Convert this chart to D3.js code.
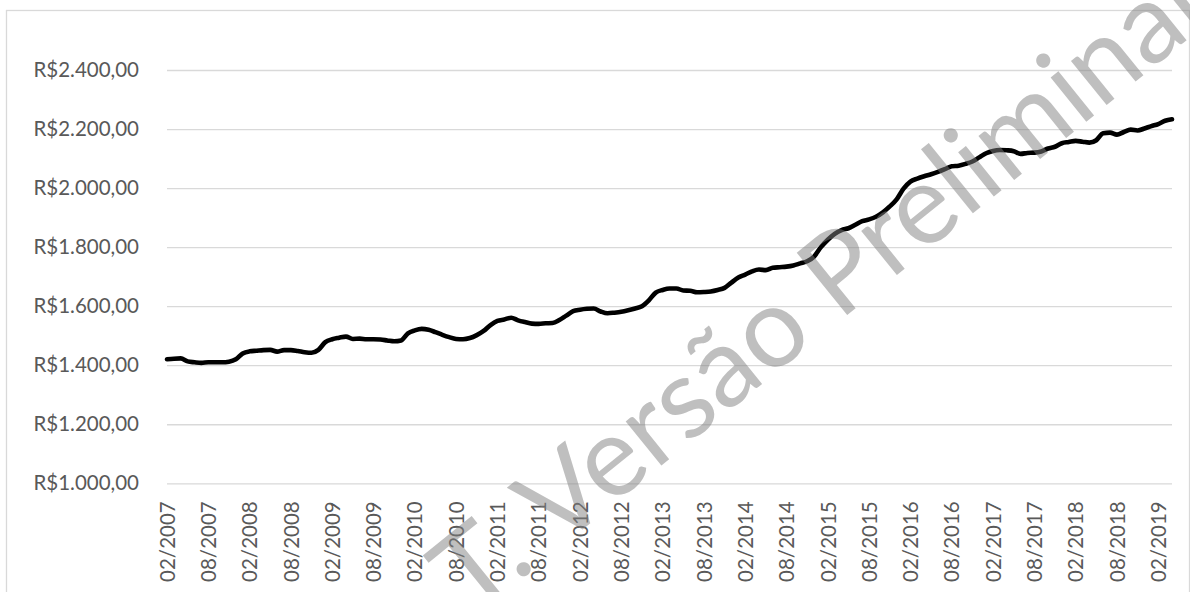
<!DOCTYPE html>
<html>
<head>
<meta charset="utf-8">
<script src="https://cdn.jsdelivr.net/npm/d3@7"></script>
<style>
  html, body { margin: 0; padding: 0; background: #fff; }
  svg { display: block; }
</style>
</head>
<body>
<svg id="chart" width="1190" height="592"></svg>
<script>
// Monthly series, 02/2007 through 04/2019 (R$)
const firstMonth = "2007-02";
const lastMonth = "2019-04";
const values = [
  1420, 1422, 1423, 1413, 1410, 1408, 1410, 1410, 1410, 1412, 1420, 1440,
  1447, 1449, 1451, 1452, 1446, 1451, 1451, 1448, 1444, 1442, 1452, 1478,
  1488, 1493, 1497, 1489, 1490, 1488, 1488, 1487, 1484, 1481, 1484, 1508,
  1518, 1523, 1520, 1512, 1503, 1495, 1489, 1488, 1492, 1502, 1516, 1536,
  1550, 1555, 1561, 1552, 1546, 1541, 1540, 1542, 1543, 1553, 1568, 1583,
  1588, 1591, 1592, 1582, 1576, 1578, 1581, 1586, 1592, 1600, 1620, 1646,
  1655, 1660, 1660, 1653, 1652, 1647, 1648, 1650, 1655, 1662, 1680, 1697,
  1707, 1718, 1724, 1722, 1730, 1732, 1734, 1738, 1745, 1752, 1768, 1800,
  1825, 1845, 1858, 1864, 1876, 1888, 1894, 1903, 1918, 1938, 1962, 1998,
  2022, 2032, 2040, 2047, 2055, 2064, 2074, 2076, 2082, 2090, 2104, 2118,
  2126, 2129, 2128, 2125, 2116, 2119, 2120, 2124, 2134, 2140, 2152, 2156,
  2160, 2157, 2154, 2162, 2186, 2188, 2181, 2190, 2198, 2195, 2202, 2210,
  2217, 2228, 2233
];
const yTicks = [1000, 1200, 1400, 1600, 1800, 2000, 2200, 2400];
const labelEvery = 6;
const watermark = "T. Versão Preliminar";

// Category labels "MM/YYYY"
const parseMonth = d3.timeParse("%Y-%m");
const fmtMonth = d3.timeFormat("%m/%Y");
const months = d3.timeMonth.range(parseMonth(firstMonth), d3.timeMonth.offset(parseMonth(lastMonth), 1)).map(fmtMonth);
const data = months.map((m, i) => ({ month: m, value: values[i] }));

const svg = d3.select("#chart");
const plot = { left: 167, right: 1172, top: 70, bottom: 483.3 };
const textColor = "#595959";
const gridColor = "#d9d9d9";
const font = "Lato, 'Open Sans', sans-serif";
const labelSize = 20.5;

const x = d3.scalePoint().domain(months).range([plot.left, plot.right]);
const y = d3.scaleLinear().domain([1000, 2400]).range([plot.bottom, plot.top]);

// Chart frame
svg.append("rect")
  .attr("x", 6.5).attr("y", 10.5)
  .attr("width", 1183).attr("height", 590)
  .attr("fill", "none").attr("stroke", gridColor).attr("stroke-width", 1.3);

// Gridlines and value labels
const fmtBRL = v => "R$" + d3.format(",.2f")(v).replace(/,/g, "#").replace(/\./g, ",").replace(/#/g, ".");
const yAxis = d3.axisLeft(y).tickValues(yTicks).tickSize(-(plot.right - plot.left)).tickPadding(28).tickFormat(fmtBRL);
const gy = svg.append("g").attr("transform", `translate(${plot.left},0)`).call(yAxis);
gy.select(".domain").remove();
gy.selectAll(".tick line").attr("stroke", gridColor).attr("stroke-width", 1.3);
gy.selectAll(".tick text")
  .attr("fill", textColor).attr("font-family", font).attr("font-size", labelSize);

// Month labels every six months, rotated
const xAxis = d3.axisBottom(x)
  .tickValues(months.filter((m, i) => i % labelEvery === 0))
  .tickSize(0).tickPadding(0);
const gx = svg.append("g").attr("transform", `translate(0,${plot.bottom})`).call(xAxis);
gx.select(".domain").remove();
gx.selectAll(".tick text")
  .attr("fill", textColor).attr("font-family", font).attr("font-size", labelSize)
  .attr("text-anchor", "end")
  .attr("transform", "translate(0,18) rotate(-90)")
  .attr("x", 0).attr("y", 0).attr("dy", "0.35em");

// Series line
const line = d3.line()
  .x(d => x(d.month))
  .y(d => y(d.value))
  .curve(d3.curveMonotoneX);
svg.append("path")
  .datum(data)
  .attr("d", line)
  .attr("fill", "none")
  .attr("stroke", "#000")
  .attr("stroke-width", 4.6)
  .attr("stroke-linejoin", "round")
  .attr("stroke-linecap", "round");

// Diagonal watermark
svg.append("text")
  .attr("transform", "translate(472,619) rotate(-39)")
  .attr("font-family", font)
  .attr("font-size", 112)
  .attr("fill", "#7f7f7f")
  .attr("fill-opacity", 0.5)
  .text(watermark);
</script>
</body>
</html>
